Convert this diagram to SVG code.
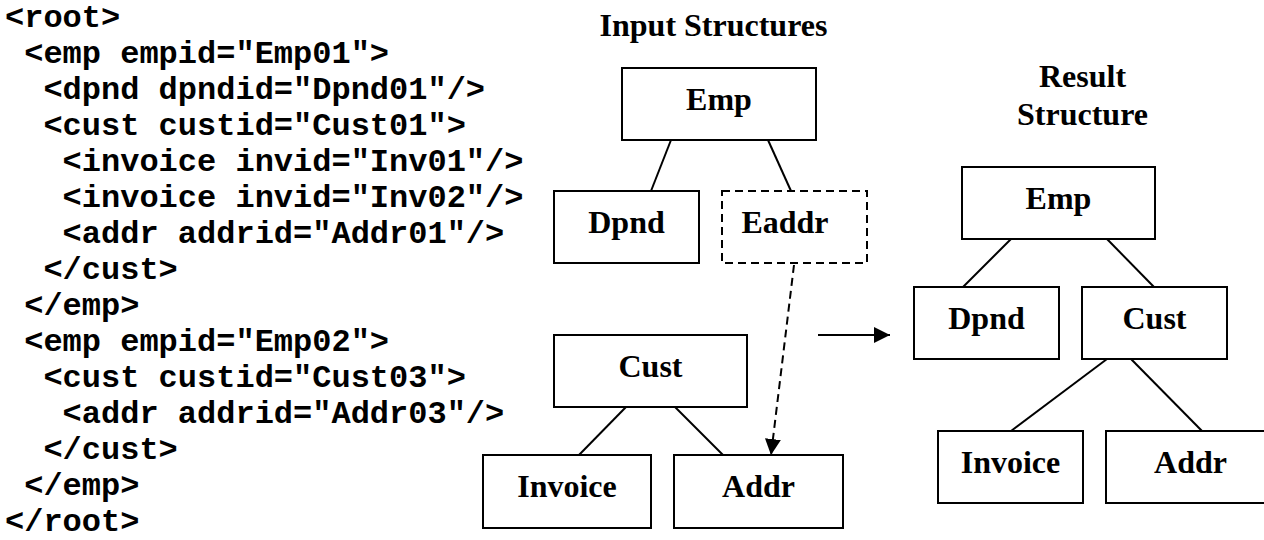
<svg xmlns="http://www.w3.org/2000/svg" width="1264" height="540" viewBox="0 0 1264 540">
<style>
.code{font-family:"Liberation Mono","Courier New",monospace;font-weight:bold;font-size:32px;fill:#000}
.lbl{font-family:"Liberation Serif","Times New Roman",serif;font-weight:bold;font-size:32px;fill:#000;text-anchor:middle}
.box{fill:#fff;stroke:#000;stroke-width:2}
.dbox{fill:#fff;stroke:#000;stroke-width:2;stroke-dasharray:8 5}
.ln{stroke:#000;stroke-width:2;fill:none}
.dln{stroke:#000;stroke-width:2;fill:none;stroke-dasharray:8 5}
</style>
<defs>
<marker id="ah" viewBox="0 0 16 16" refX="16" refY="8" markerWidth="16" markerHeight="16" markerUnits="userSpaceOnUse" orient="auto">
<path d="M0,0 L16,8 L0,16 Z" fill="#000"/>
</marker>
</defs>
<rect width="1264" height="540" fill="#fff"/>
<g id="code">
<text class="code" x="5" y="27">&lt;root&gt;</text>
<text class="code" x="24.2" y="63">&lt;emp empid="Emp01"&gt;</text>
<text class="code" x="43.4" y="99">&lt;dpnd dpndid="Dpnd01"/&gt;</text>
<text class="code" x="43.4" y="135">&lt;cust custid="Cust01"&gt;</text>
<text class="code" x="62.6" y="171">&lt;invoice invid="Inv01"/&gt;</text>
<text class="code" x="62.6" y="207">&lt;invoice invid="Inv02"/&gt;</text>
<text class="code" x="62.6" y="243">&lt;addr addrid="Addr01"/&gt;</text>
<text class="code" x="43.4" y="279">&lt;/cust&gt;</text>
<text class="code" x="24.2" y="315">&lt;/emp&gt;</text>
<text class="code" x="24.2" y="351">&lt;emp empid="Emp02"&gt;</text>
<text class="code" x="43.4" y="387">&lt;cust custid="Cust03"&gt;</text>
<text class="code" x="62.6" y="423">&lt;addr addrid="Addr03"/&gt;</text>
<text class="code" x="43.4" y="459">&lt;/cust&gt;</text>
<text class="code" x="24.2" y="495">&lt;/emp&gt;</text>
<text class="code" x="5" y="531">&lt;/root&gt;</text>
</g>
<g id="titles">
<text class="lbl" x="713.5" y="36">Input Structures</text>
<text class="lbl" x="1082.5" y="87">Result</text>
<text class="lbl" x="1082.5" y="125">Structure</text>
</g>
<g id="connectors">
<line class="ln" x1="671" y1="140" x2="651" y2="191"/>
<line class="ln" x1="768" y1="140" x2="791" y2="191"/>
<line class="ln" x1="626" y1="407" x2="579" y2="455"/>
<line class="ln" x1="675" y1="407" x2="723" y2="455"/>
<line class="dln" x1="794" y1="265" x2="771" y2="455" marker-end="url(#ah)"/>
<line class="ln" x1="818" y1="335" x2="890" y2="335" marker-end="url(#ah)"/>
<line class="ln" x1="1011" y1="239" x2="963" y2="287"/>
<line class="ln" x1="1107" y1="239" x2="1154" y2="287"/>
<line class="ln" x1="1107" y1="359" x2="1011" y2="431"/>
<line class="ln" x1="1131" y1="359" x2="1202" y2="431"/>
</g>
<g id="in-emp"><rect class="box" x="622" y="68" width="194" height="72"/><text class="lbl" x="719" y="110">Emp</text></g>
<g id="in-dpnd"><rect class="box" x="554" y="191" width="145" height="72"/><text class="lbl" x="626.5" y="233">Dpnd</text></g>
<g id="in-eaddr"><rect class="dbox" x="722" y="191" width="145" height="72"/><text class="lbl" x="785" y="233">Eaddr</text></g>
<g id="in-cust"><rect class="box" x="554" y="335" width="193" height="72"/><text class="lbl" x="650.5" y="377">Cust</text></g>
<g id="in-invoice"><rect class="box" x="483" y="455" width="168" height="73"/><text class="lbl" x="567" y="497">Invoice</text></g>
<g id="in-addr"><rect class="box" x="674" y="455" width="169" height="73"/><text class="lbl" x="758.5" y="497">Addr</text></g>
<g id="res-emp"><rect class="box" x="962" y="167" width="193" height="72"/><text class="lbl" x="1058.5" y="209">Emp</text></g>
<g id="res-dpnd"><rect class="box" x="914" y="287" width="145" height="72"/><text class="lbl" x="986.5" y="329">Dpnd</text></g>
<g id="res-cust"><rect class="box" x="1082" y="287" width="145" height="72"/><text class="lbl" x="1154.5" y="329">Cust</text></g>
<g id="res-invoice"><rect class="box" x="938" y="431" width="145" height="72"/><text class="lbl" x="1010.5" y="473">Invoice</text></g>
<g id="res-addr"><rect class="box" x="1106" y="431" width="169" height="72"/><text class="lbl" x="1190.5" y="473">Addr</text></g>
</svg>
